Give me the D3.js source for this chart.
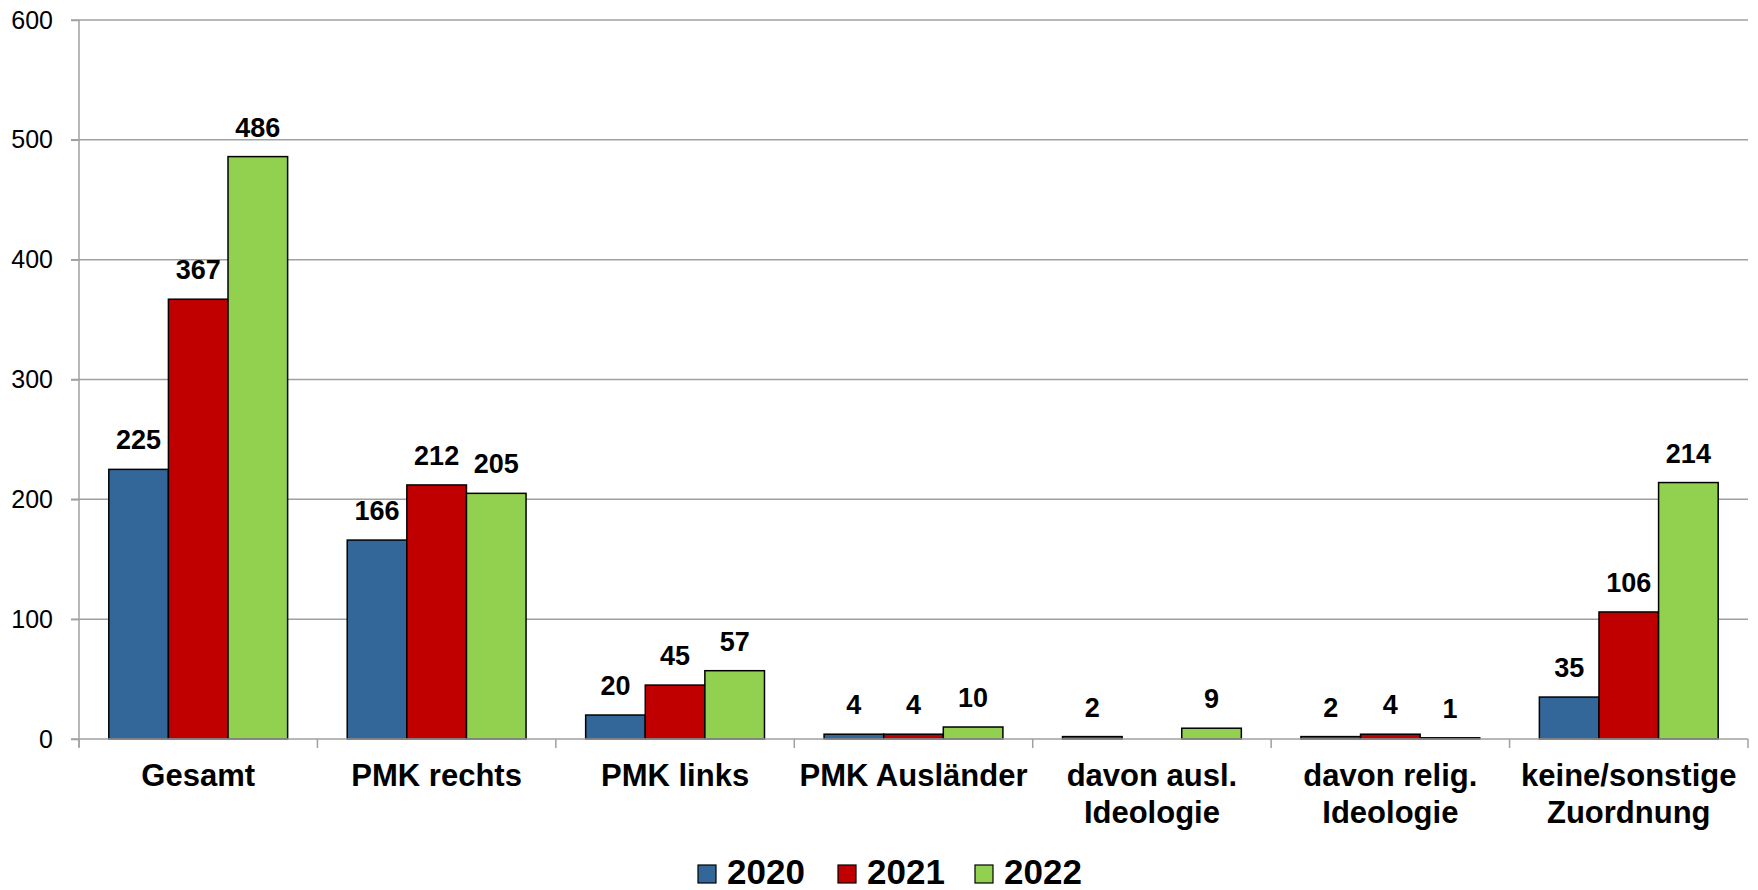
<!DOCTYPE html>
<html><head><meta charset="utf-8">
<script src="https://cdn.jsdelivr.net/npm/d3@7"></script>
<style>html,body{margin:0;padding:0;background:#fff;}svg{display:block;font-family:"Liberation Sans",Arial,sans-serif;}</style>
</head><body>
<svg id="chart" width="1758" height="890"></svg>
<script>
const categories = [["Gesamt"],["PMK rechts"],["PMK links"],["PMK Ausländer"],["davon ausl.","Ideologie"],["davon relig.","Ideologie"],["keine/sonstige","Zuordnung"]];
const years = ["2020","2021","2022"];
const values2020 = [225,166,20,4,2,2,35];
const values2021 = [367,212,45,4,null,4,106];
const values2022 = [486,205,57,10,9,1,214];
const yTicks = [0,100,200,300,400,500,600];
const colors = ["#336699","#C00000","#92D050"];

(function(){
const series = [values2020, values2021, values2022];
const svg = d3.select("#chart");
const mLeft = 79, mRight = 1748, mTop = 20, mBottom = 739;
const catKeys = categories.map((c,i)=>i);
const x0 = d3.scaleBand().domain(catKeys).range([mLeft,mRight]).padding(0);
const bw = x0.bandwidth();
const x1 = d3.scaleBand().domain(years).range([bw*0.125,bw*0.875]).padding(0);
const y = d3.scaleLinear().domain([0,600]).range([mBottom,mTop]);
const grid = "#A0A0A0";

// gridlines
svg.append("g").selectAll("line").data(yTicks.filter(t=>t>0)).join("line")
  .attr("x1",mLeft-8).attr("x2",mRight).attr("y1",d=>y(d)).attr("y2",d=>y(d))
  .attr("stroke",grid).attr("stroke-width",1.5);

// y axis
const yAxis = svg.append("g").attr("transform",`translate(${mLeft},0)`)
  .call(d3.axisLeft(y).tickValues(yTicks).tickSize(8).tickPadding(18).tickFormat(d3.format("d")));
yAxis.select(".domain").remove();
yAxis.selectAll(".tick line").attr("stroke",grid).attr("stroke-width",1.5);
yAxis.selectAll(".tick text").attr("font-size",25).attr("fill","#000").attr("font-family","Liberation Sans, Arial, sans-serif");
svg.append("line").attr("x1",mLeft).attr("x2",mLeft).attr("y1",mTop).attr("y2",mBottom+8).attr("stroke",grid).attr("stroke-width",1.5);

// bars
const groups = svg.append("g").selectAll("g").data(catKeys).join("g")
  .attr("transform",d=>`translate(${x0(d)},0)`);
groups.selectAll("rect").data(ci=>years.map((yr,si)=>({yr,si,v:series[si][ci]})).filter(d=>d.v!==null))
  .join("rect")
  .attr("x",d=>x1(d.yr)).attr("width",x1.bandwidth())
  .attr("y",d=>y(d.v)).attr("height",d=>y(0)-y(d.v))
  .attr("fill",d=>colors[d.si]).attr("stroke","#000").attr("stroke-width",1.5);
groups.selectAll("text").data(ci=>years.map((yr,si)=>({yr,si,v:series[si][ci]})).filter(d=>d.v!==null))
  .join("text")
  .attr("x",d=>x1(d.yr)+x1.bandwidth()/2).attr("y",d=>y(d.v)-20)
  .attr("text-anchor","middle").attr("font-size",27).attr("font-weight","bold").text(d=>d.v);

// x axis
svg.append("line").attr("x1",mLeft-8).attr("x2",mRight).attr("y1",mBottom).attr("y2",mBottom).attr("stroke",grid).attr("stroke-width",1.5);
svg.append("g").selectAll("line").data(d3.range(categories.length+1)).join("line")
  .attr("x1",d=>mLeft+d*bw).attr("x2",d=>mLeft+d*bw).attr("y1",mBottom).attr("y2",mBottom+9)
  .attr("stroke",grid).attr("stroke-width",1.5);
const xl = svg.append("g").selectAll("text").data(catKeys).join("text")
  .attr("x",d=>x0(d)+bw/2).attr("y",786).attr("text-anchor","middle")
  .attr("font-size",31).attr("font-weight","bold");
xl.selectAll("tspan").data(d=>categories[d]).join("tspan")
  .attr("x",function(){return this.parentNode.getAttribute("x");})
  .attr("dy",(d,i)=>i===0?0:37).text(d=>d);

// legend
const legX = [698,838,975];
const leg = svg.append("g").selectAll("g").data(years).join("g")
  .attr("transform",(d,i)=>`translate(${legX[i]},0)`);
leg.append("rect").attr("x",0).attr("y",865).attr("width",18).attr("height",18)
  .attr("fill",(d,i)=>colors[i]).attr("stroke","#000").attr("stroke-width",1.2);
leg.append("text").attr("x",29).attr("y",884).attr("font-size",35).attr("font-weight","bold").text(d=>d);
})();
</script>
</body></html>
